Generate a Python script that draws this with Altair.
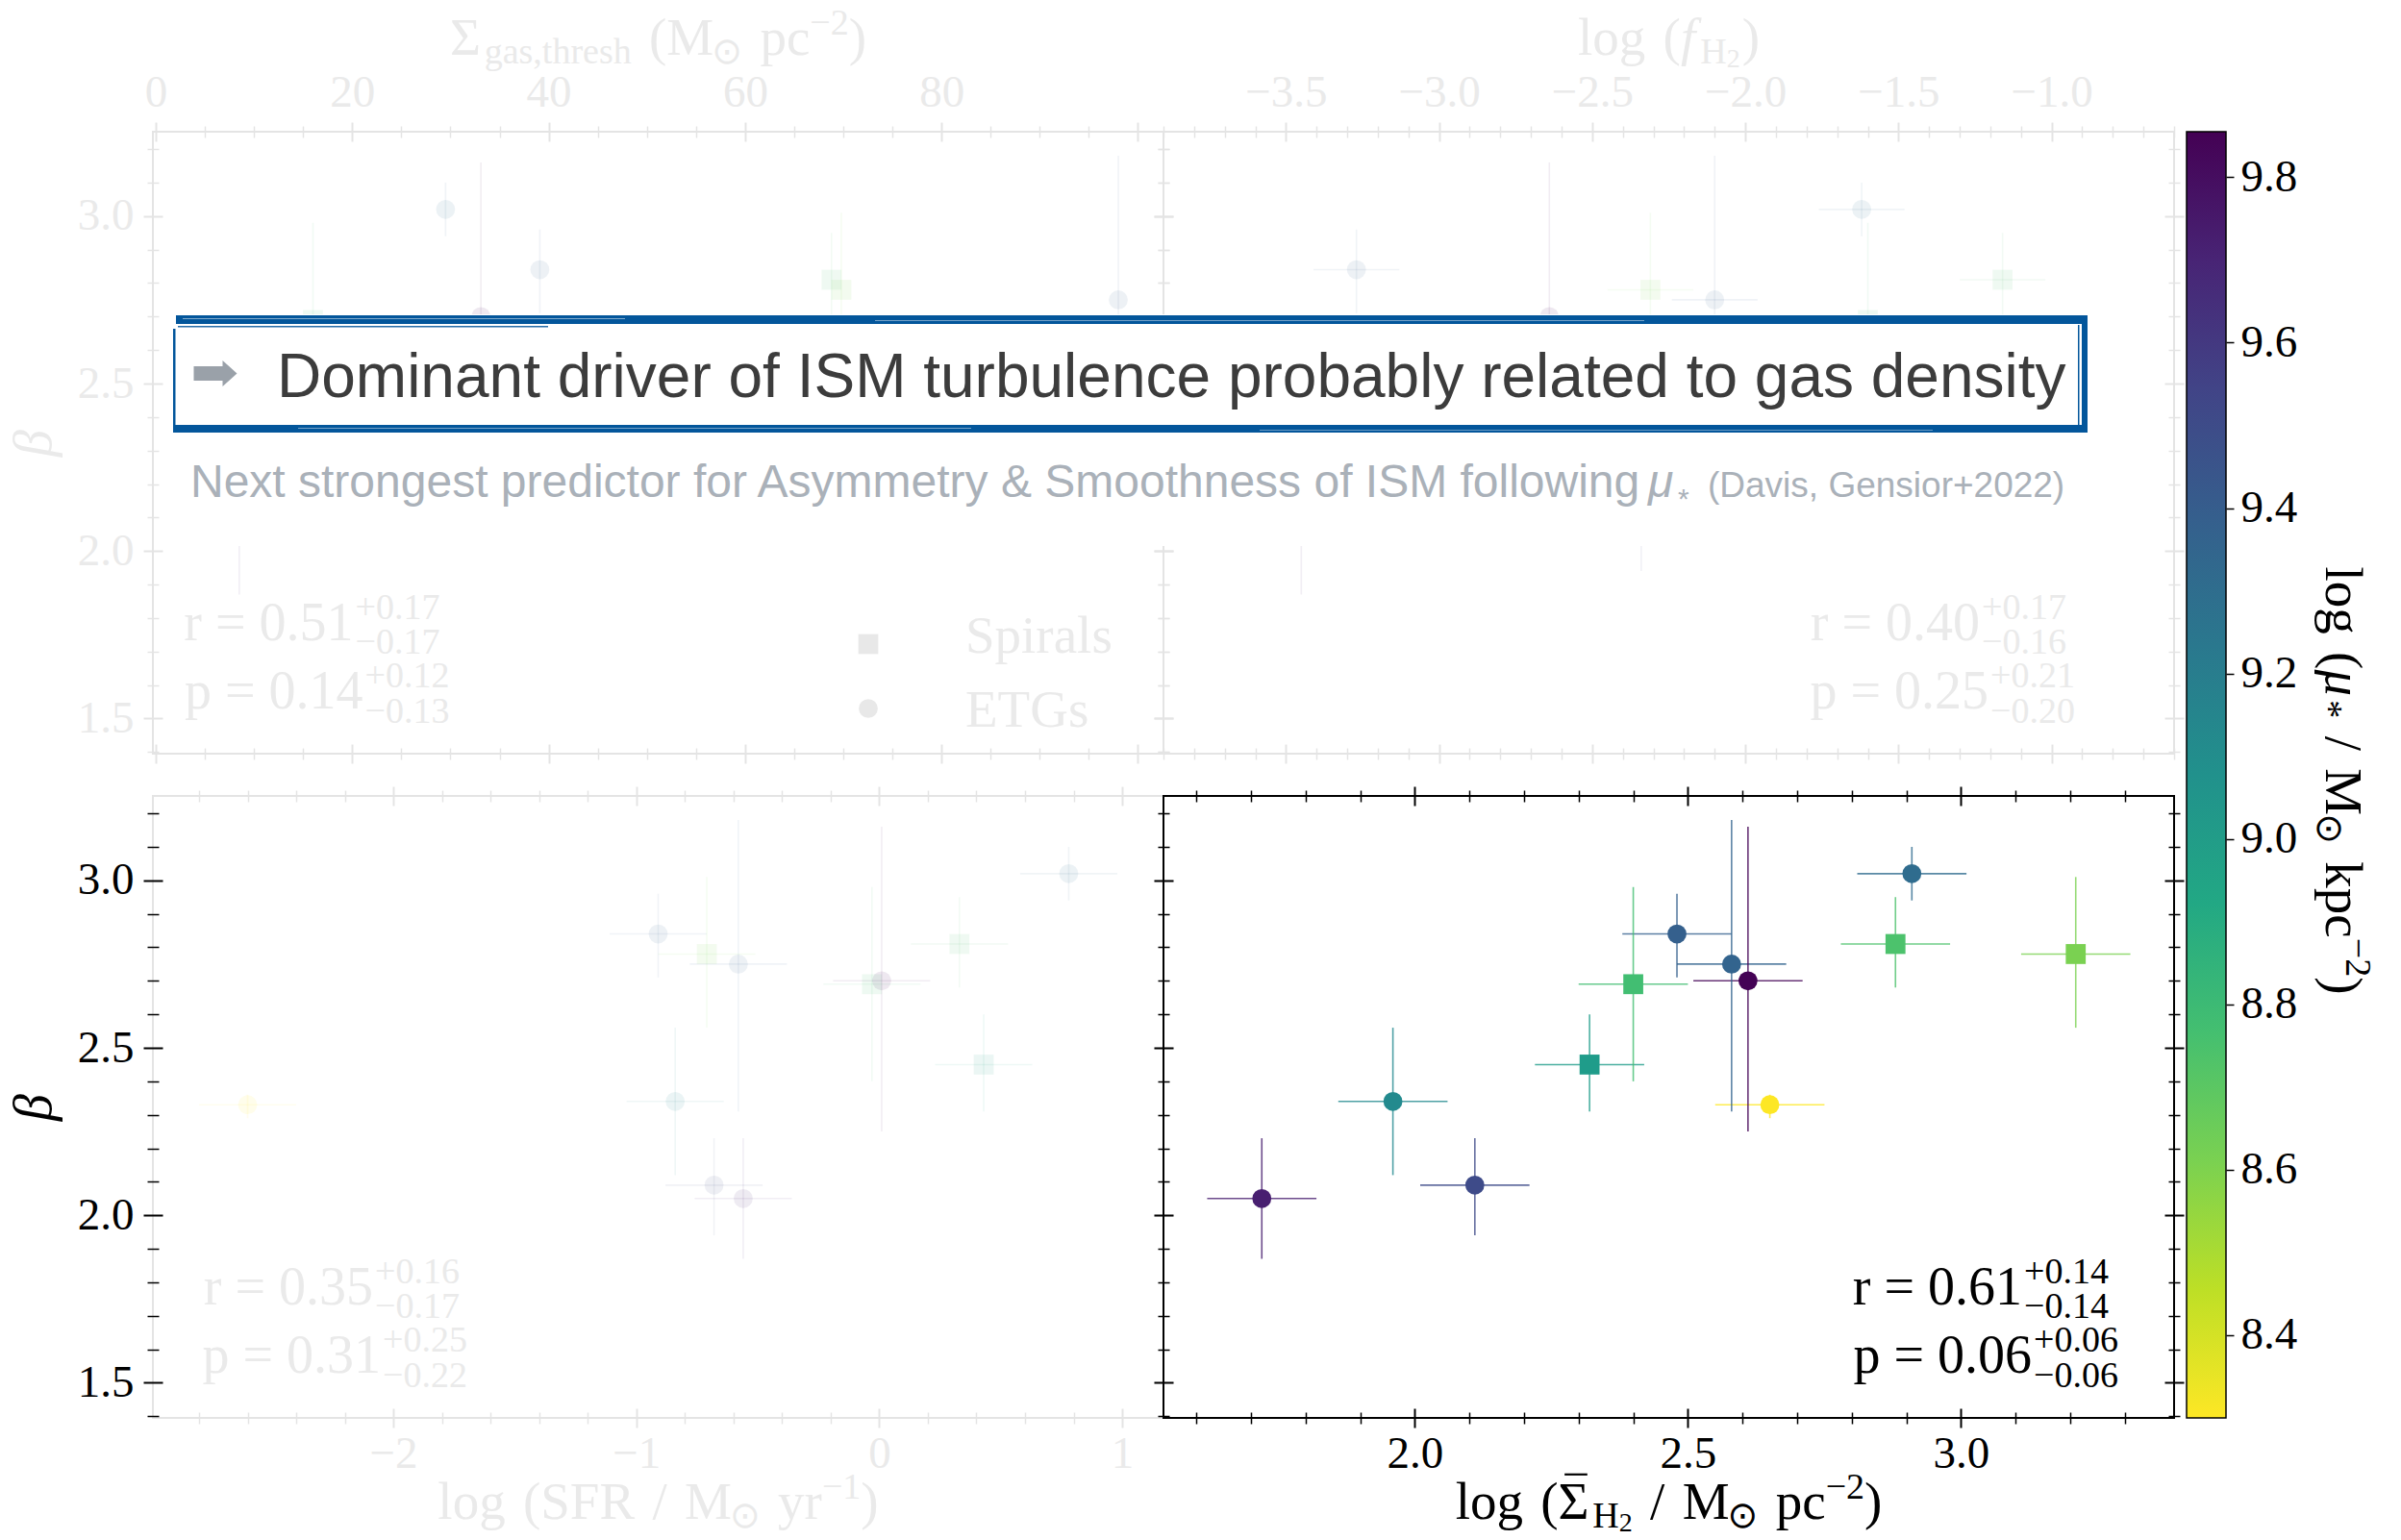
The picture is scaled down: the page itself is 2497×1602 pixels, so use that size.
import altair as alt
import pandas as pd

SERIF = "Liberation Serif"
SANS = "Liberation Sans"
SYMB = "DejaVu Sans"
BLUE = "#03569b"
FADE_LINE = "#e4e4e4"
FADE_TEXT = "#eaeaea"

# ---- galaxy sample: one entry per galaxy ---------------------------------
galaxy_type = ["ETG", "ETG", "ETG", "Spiral", "Spiral", "ETG",
               "ETG", "ETG", "ETG", "Spiral", "ETG", "Spiral"]
beta = [2.05, 2.34, 2.09, 2.45, 2.69, 2.84, 2.75, 2.70, 2.33, 2.81, 3.02, 2.78]
beta_lo = [1.87, 2.12, 1.94, 2.31, 2.40, 2.71, 2.31, 2.25, 2.29, 2.68, 2.94, 2.56]
beta_hi = [2.23, 2.56, 2.23, 2.60, 2.98, 2.96, 3.18, 3.16, 2.36, 2.95, 3.10, 3.01]
log_mu_star = [9.73, 9.12, 9.51, 9.00, 8.77, 9.39, 9.36, 9.85, 8.30, 8.74, 9.31, 8.61]
log_sigma_h2 = [1.72, 1.96, 2.11, 2.32, 2.40, 2.48, 2.58, 2.61, 2.65, 2.88, 2.91, 3.21]
log_sigma_h2_err = [0.10, 0.10, 0.10, 0.10, 0.10, 0.10, 0.10, 0.10, 0.10, 0.10, 0.10, 0.10]
log_sfr = [-0.56, -0.84, -0.68, 0.43, -0.03, -0.91, -0.58, 0.01, -2.60, 0.33, 0.78, -0.71]
log_sfr_err = [0.20, 0.20, 0.20, 0.20, 0.20, 0.20, 0.20, 0.20, 0.20, 0.20, 0.20, 0.20]
sigma_gas_thresh = [8.5, 25.0, None, 60.0, 16.0, 39.1, 98.0, 33.1, 12.0, 68.8, 29.5, 69.8]
log_f_h2 = [-3.45, -2.90, -2.34, -1.90, -1.60, -3.27, -2.10, -2.64, -3.70, -1.16, -1.62, -2.31]
log_f_h2_err = [0.14, 0.14, 0.14, 0.14, 0.14, 0.14, 0.14, 0.14, 0.14, 0.14, 0.14, 0.14]

# correlation coefficients quoted in each panel: (r, +, -, p, +, -)
stats_sgt = ["0.51", "+0.17", "−0.17", "0.14", "+0.12", "−0.13"]
stats_fh2 = ["0.40", "+0.17", "−0.16", "0.25", "+0.21", "−0.20"]
stats_sfr = ["0.35", "+0.16", "−0.17", "0.31", "+0.25", "−0.22"]
stats_sh2 = ["0.61", "+0.14", "−0.14", "0.06", "+0.06", "−0.06"]

df = pd.DataFrame({
    "type": galaxy_type, "beta": beta, "beta_lo": beta_lo, "beta_hi": beta_hi,
    "mu": log_mu_star, "sh2": log_sigma_h2, "sfr": log_sfr,
    "sgt": sigma_gas_thresh, "fh2": log_f_h2,
})
df["sh2_lo"] = df["sh2"] - pd.Series(log_sigma_h2_err)
df["sh2_hi"] = df["sh2"] + pd.Series(log_sigma_h2_err)
df["sfr_lo"] = df["sfr"] - pd.Series(log_sfr_err)
df["sfr_hi"] = df["sfr"] + pd.Series(log_sfr_err)
df["fh2_lo"] = df["fh2"] - pd.Series(log_f_h2_err)
df["fh2_hi"] = df["fh2"] + pd.Series(log_f_h2_err)

MU_DOMAIN = [8.30, 9.855]
MU_TICKS = [8.4, 8.6, 8.8, 9.0, 9.2, 9.4, 9.6, 9.8]
Y_DOMAIN = [1.395, 3.252]
Y_MAJOR = [1.5, 2.0, 2.5, 3.0]
VIRIDIS = ["#440154", "#482475", "#414487", "#355f8d", "#2a788e", "#21918c",
           "#22a884", "#44bf70", "#7ad151", "#bddf26", "#fde725"]
CSCALE = alt.Scale(scheme="viridis", reverse=True, domain=MU_DOMAIN)

W, H = 1051, 647
GAP = 44
CBAR_X0, CBAR_X1 = W + 13, W + 54
TICK_FONT = 47


def minor(start, stop, step, major):
    n = int(round((stop - start) / step)) + 1
    vals = [round(start + i * step, 3) for i in range(n)]
    return [v for v in vals if all(abs(v - m) > 1e-6 for m in major)]


Y_MINOR = minor(1.4, 3.2, 0.1, Y_MAJOR)

one = pd.DataFrame({"k": [0]})


def label(text, x, y, size, color, font=SERIF, align="left", italic=False, angle=None):
    kw = dict(text=text, font=font, fontSize=size, color=color, align=align,
              baseline="alphabetic")
    if italic:
        kw["fontStyle"] = "italic"
    if angle is not None:
        kw["angle"] = angle
    return alt.Chart(one).mark_text(**kw).encode(x=alt.value(x), y=alt.value(y))


def band(x0, x1, y0, y1, color, opacity=1.0):
    return alt.Chart(one).mark_rect(color=color, opacity=opacity).encode(
        x=alt.value(x0), x2=alt.value(x1), y=alt.value(y0), y2=alt.value(y1))


# advance widths (em) of the serif face, used to set formula pieces side by side
ADV = {"(": .333, ")": .333, "/": .278, ",": .25, ".": .25,
       "−": .564, "+": .564, "*": .5, "Σ": .65, "μ": .58, "⊙": .838,
       "A": .722, "F": .556, "H": .722, "M": .889, "R": .667, "S": .556,
       "a": .444, "c": .444, "e": .444, "f": .333, "g": .5, "h": .5, "k": .5,
       "l": .278, "o": .5, "p": .5, "r": .333, "s": .389, "t": .278, "y": .5}
SPACE = .333


def adv(text, size):
    return sum(ADV.get(ch, .5) for ch in text) * size


def piece_width(text, size):
    words = text.split(" ")
    return sum(adv(w, size) for w in words) + (len(words) - 1) * SPACE * size


def formula(pieces, centre, base, color, rotated=False):
    """pieces: (text, size, baseline shift up, italic, overbar, kern);
    spaces are turned into offsets so each word is placed on its own"""
    total = sum(piece_width(p[0], p[1]) + p[5] for p in pieces)
    pos = centre - total / 2
    out = []
    for text, size, shift, italic, bar, kern in pieces:
        font = SYMB if text == "⊙" else SERIF
        pos += kern
        for i, word in enumerate(text.split(" ")):
            if i:
                pos += SPACE * size
            if not word:
                continue
            w = adv(word, size)
            if rotated:
                out.append(label(word, base + shift, pos, size, color, font=font,
                                 italic=italic, angle=90))
            else:
                out.append(label(word, pos, base - shift, size, color, font=font,
                                 italic=italic))
                if bar:
                    top = base - shift - 0.86 * size
                    out.append(band(pos + 0.12 * size, pos + w - 0.1 * size,
                                    top, top + 2.2, color))
            pos += w
    return out


M, S, SS = 55, 38, 28


def seg(text, kind="main", italic=False, bar=False, kern=0):
    size, shift = {"main": (M, 0), "sub": (S, -9), "sup": (S, 21),
                   "subsub": (SS, -13)}[kind]
    return (text, size, shift, italic, bar, kern)


SUN = seg("⊙", "sub", kern=-2)


def tick_axis(orient, values, half, color, width, **extra):
    # ticks straddle the frame: shift the axis inward by half the tick length
    opts = dict(orient=orient, values=values, offset=-half, tickSize=2 * half,
                tickColor=color, tickWidth=width, domain=False, grid=False,
                labels=False, title=None)
    opts.update(extra)
    return alt.Axis(**opts)


def label_opts(color, pad, fmt, expr=None):
    o = dict(labels=True, labelFont=SERIF, labelFontSize=TICK_FONT, labelColor=color,
             labelPadding=pad, format=fmt, labelFlush=False, labelOverlap=False)
    if expr:
        o["labelExpr"] = expr
    return o


def stats_text(s, r_anchor, p_anchor, color):
    return [
        label(f"r = {s[0]}", r_anchor, 529, 56, color, align="right"),
        label(s[1], r_anchor + 2, 507, 38, color),
        label(s[2], r_anchor + 2, 543, 38, color),
        label(f"p = {s[3]}", p_anchor, 600, 56, color, align="right"),
        label(s[4], p_anchor + 2, 578, 38, color),
        label(s[5], p_anchor + 2, 615, 38, color),
    ]


def panel(x, x_lo, x_hi, x_domain, x_major, x_minor, x_side, x_fmt, faded,
          y_text=None, y_tick=None, label_expr=None, extra=(), own_y=False):
    line = FADE_LINE if faded else "black"
    text = FADE_TEXT if faded else "black"
    ytc = y_tick or line
    far = "top" if x_side == "bottom" else "bottom"
    xs = alt.Scale(domain=x_domain, nice=False, zero=False)
    ys = alt.Scale(domain=Y_DOMAIN, nice=False, zero=False)
    colour = alt.Color("mu:Q", scale=CSCALE, legend=None)
    pt_op = 0.09 if faded else 1.0
    bar_op = 0.075 if faded else 0.8
    xpad = 4 if x_side == "bottom" else 7
    x_lab = tick_axis(x_side, x_major, 10, line, 2,
                      **label_opts(text, xpad, x_fmt, label_expr))
    y_main = {}
    if y_text:
        y_main.update(label_opts(y_text, 10, ".1f"))
        y_main.update(dict(title="β", titleFont=SERIF, titleFontSize=56,
                           titleColor=y_text, titlePadding=16,
                           titleFontWeight="normal", titleFontStyle="italic"))
    y_lab = tick_axis("left", Y_MAJOR, 10, ytc, 2, **y_main)

    xerr = alt.Chart(df).mark_rule(strokeWidth=1.6, opacity=bar_op).encode(
        x=alt.X(f"{x_lo}:Q", scale=xs, axis=x_lab), x2=f"{x_hi}:Q",
        y=alt.Y("beta:Q", scale=ys, axis=y_lab), color=colour)
    yerr = alt.Chart(df).mark_rule(strokeWidth=1.6, opacity=bar_op).encode(
        x=alt.X(f"{x}:Q", scale=xs, axis=tick_axis(x_side, x_minor, 6, line, 1.5)),
        y=alt.Y("beta_lo:Q", scale=ys, axis=tick_axis("left", Y_MINOR, 6, ytc, 1.5)),
        y2="beta_hi:Q", color=colour)
    etgs = alt.Chart(df).transform_filter("datum.type == 'ETG'").mark_circle(
        size=390, opacity=pt_op).encode(
        x=alt.X(f"{x}:Q", scale=xs, axis=tick_axis(far, x_major, 10, line, 2)),
        y=alt.Y("beta:Q", scale=ys, axis=tick_axis("right", Y_MAJOR, 10, line, 2)),
        color=colour)
    spirals = alt.Chart(df).transform_filter("datum.type == 'Spiral'").mark_square(
        size=430, opacity=pt_op).encode(
        x=alt.X(f"{x}:Q", scale=xs, axis=tick_axis(far, x_minor, 6, line, 1.5)),
        y=alt.Y("beta:Q", scale=ys, axis=tick_axis("right", Y_MINOR, 6, line, 1.5)),
        color=colour)
    layer = alt.layer(xerr, yerr, etgs, spirals, *extra).resolve_axis(
        x="independent", y="independent")
    if own_y:
        layer = layer.resolve_scale(y="independent")
    return layer.properties(width=W, height=H,
                            view=alt.ViewBackground(stroke=line, strokeWidth=2))


# ---- axis titles set as formulas -------------------------------------------
TOP_BASE, BOT_BASE, CX = -80, 752, W / 2
title_sgt = formula([seg("Σ"), seg("gas,thresh", "sub"), seg(" (M"), SUN,
                     seg(" pc"), seg("−2", "sup"), seg(")")], CX, TOP_BASE, FADE_TEXT)
title_fh2 = formula([seg("log ("), seg("f", italic=True), seg("H", "sub", kern=2),
                     seg("2", "subsub"), seg(")", kern=2)], CX, TOP_BASE, FADE_TEXT)
title_sfr = formula([seg("log (SFR / M"), SUN, seg(" yr"), seg("−1", "sup"),
                     seg(")")], CX, BOT_BASE, FADE_TEXT)
title_sh2 = formula([seg("log ("), seg("Σ", bar=True), seg("H", "sub"), seg("2", "subsub"),
                     seg(" / M"), SUN, seg(" pc"), seg("−2", "sup"),
                     seg(")")], CX, BOT_BASE, "black")
title_mu = formula([seg("log ("), seg("μ", italic=True), seg("*", "sub"), seg(" / M"),
                    SUN, seg(" kpc"), seg("−2", "sup"), seg(")")],
                   675, W + 158, "black", rotated=True)

# ---- legend for galaxy types (top-left panel) ----------------------------
legend_marks = [
    alt.Chart(one).mark_square(size=430, color="#e8e8e8", opacity=1).encode(
        x=alt.value(744), y=alt.value(533)),
    alt.Chart(one).mark_circle(size=390, color="#e8e8e8", opacity=1).encode(
        x=alt.value(744), y=alt.value(600)),
    label("Spirals", 845, 542, 55, FADE_TEXT),
    label("ETGs", 845, 619, 55, FADE_TEXT),
]

# ---- take-away message box laid across the top row -----------------------
ARROW = "M -1 -0.333 L 0.333 -0.333 L 0.333 -0.6 L 1 0 L 0.333 0.6 L 0.333 0.333 L -1 0.333 Z"
message = [
    band(-1030, 961, 190, 431, "white"),
    band(-1027, 961, 191, 200, BLUE),
    band(-1020, -560, 194, 195, "white", 0.5),
    band(-300, 500, 196, 197, "white", 0.45),
    band(-1025, -640, 202, 203.5, BLUE, 0.85),
    band(-1030, 961, 305, 313, BLUE),
    band(-900, -200, 308, 309, "white", 0.45),
    band(100, 800, 310, 311, "white", 0.4),
    band(-1030, -1027.5, 205, 313, BLUE),
    band(955, 961, 191, 313, BLUE),
    band(951, 952.5, 201, 305, BLUE),
    alt.Chart(one).mark_point(shape=ARROW, size=2025, filled=True, color="#9aa1a9",
                              opacity=1).encode(x=alt.value(-986), y=alt.value(251.5)),
    label("Dominant driver of ISM turbulence probably related to gas density",
          -922, 276, 64, "#3c3c3c", font=SANS),
    label("Next strongest predictor for Asymmetry & Smoothness of ISM following",
          -1012, 380, 48, "#aab1b9", font=SANS),
    label("μ", 504, 380, 48, "#aab1b9", font=SANS, italic=True),
    label("*", 535, 392, 30, "#aab1b9", font=SANS),
    label("(Davis, Gensior+2022)", 566, 380, 37, "#aab1b9", font=SANS),
]

# ---- colour bar, hung from the top-right panel down the full height --------
gradient = alt.LinearGradient(
    gradient="linear",
    stops=[alt.GradientStop(color=c, offset=i / (len(VIRIDIS) - 1))
           for i, c in enumerate(VIRIDIS)],
    x1=0, x2=0, y1=0, y2=1)
cbar = alt.Chart(pd.DataFrame({"lo": [MU_DOMAIN[0]], "hi": [MU_DOMAIN[1]]})).mark_rect(
    fill=gradient, stroke="black", strokeWidth=1.5).encode(
    x=alt.value(CBAR_X0), x2=alt.value(CBAR_X1),
    y=alt.Y("lo:Q", scale=alt.Scale(domain=MU_DOMAIN, range=[2 * H + GAP, 0],
                                     nice=False, zero=False),
            axis=alt.Axis(orient="right", offset=CBAR_X1 - W, values=MU_TICKS,
                          format=".1f", tickSize=8, tickWidth=1.5, tickColor="black",
                          domain=False, grid=False, labelFont=SERIF,
                          labelFontSize=TICK_FONT, labelColor="black", labelPadding=7,
                          labelFlush=False, title=None)),
    y2="hi:Q")

# ---- the four panels ------------------------------------------------------
tl = panel("sgt", "sgt", "sgt", [-0.3, 102.6], [0, 20, 40, 60, 80, 100],
           minor(5, 95, 5, [20, 40, 60, 80]), "top", "d", True, y_text=FADE_TEXT,
           label_expr="datum.value >= 100 ? '' : datum.label",
           extra=stats_text(stats_sgt, 208.6, 218.6, FADE_TEXT) + legend_marks + title_sgt)

tr_major = [-3.5, -3.0, -2.5, -2.0, -1.5, -1.0]
tr = panel("fh2", "fh2_lo", "fh2_hi", [-3.90, -0.60], tr_major,
           minor(-3.9, -0.6, 0.1, tr_major), "top", ".1f", True,
           extra=stats_text(stats_fh2, 849, 858, FADE_TEXT) + title_fh2 + [cbar]
           + title_mu + message, own_y=True)

bl_major = [-2, -1, 0, 1]
bl = panel("sfr", "sfr_lo", "sfr_hi", [-2.99, 1.17], bl_major,
           minor(-2.8, 1.0, 0.2, bl_major), "bottom", "d", True,
           y_text="black", y_tick="black",
           extra=stats_text(stats_sfr, 229, 237, FADE_TEXT) + title_sfr)

br_major = [2.0, 2.5, 3.0]
br = panel("sh2", "sh2_lo", "sh2_hi", [1.54, 3.39], br_major,
           minor(1.6, 3.3, 0.1, br_major), "bottom", ".1f", False,
           extra=stats_text(stats_sh2, 893, 903, "black") + title_sh2)

chart = alt.concat(tl, tr, bl, br, columns=2, spacing={"row": GAP, "column": 0},
                   bounds="flush").properties(
    padding={"left": 6, "top": 5, "right": 5, "bottom": 5}, background="white")

chart.save("out.html", embed_options={"renderer": "svg", "actions": False})
